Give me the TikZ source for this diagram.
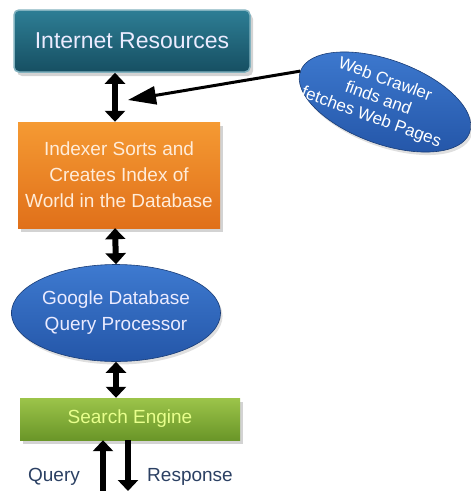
\documentclass[tikz,border=0pt]{standalone}
\usepackage{fontspec}
\setmainfont{Liberation Sans}
\usetikzlibrary{arrows.meta,shapes.geometric,shadows}

\definecolor{tealdark}{HTML}{164F62}
\definecolor{teallight}{HTML}{2E7E95}
\definecolor{orangetop}{HTML}{F59A33}
\definecolor{orangebot}{HTML}{E0701A}
\definecolor{bluetop}{HTML}{3E7AD0}
\definecolor{bluebot}{HTML}{2456A8}
\definecolor{greentop}{HTML}{9CC44A}
\definecolor{greenbot}{HTML}{6A9628}
\definecolor{slatetext}{HTML}{2B4063}

\tikzset{
  box/.style={rectangle,inner sep=0pt,drop shadow={shadow xshift=3pt,shadow yshift=-4pt,opacity=.35}},
  blob/.style={ellipse,inner sep=0pt,top color=bluetop,bottom color=bluebot,draw=bluebot!70!black,line width=.6pt,
    drop shadow={shadow xshift=2pt,shadow yshift=-3pt,opacity=.25}},
  dbl/.style={line width=6pt,{Triangle[width=20pt,length=11pt]}-{Triangle[width=20pt,length=11pt]}},
  sgl/.style={line width=6pt,-{Triangle[width=20pt,length=11pt]}},
  txt/.style={font=\fontsize{19}{26}\selectfont},
}

\begin{document}
\begin{tikzpicture}[x=1pt,y=-1pt]
      \useasboundingbox (0,0) rectangle (471,491);

      \node[box,rounded corners=5pt,minimum width=236pt,minimum height=62pt,top color=teallight,bottom color=tealdark,draw=teallight!60!white,line width=1.5pt,text=white!92!blue,font=\fontsize{23}{26}\selectfont] (inet) at (132,41) {Internet Resources};
      \node[box,minimum width=202pt,minimum height=106pt,top color=orangetop,bottom color=orangebot,align=center,txt,text=orange!15!white] (index) at (119,175) {Indexer Sorts and\\ Creates Index of\\ World in the Database};
      \node[blob,minimum width=178pt,minimum height=97pt,align=center,txt,text=blue!8!white] (query) at (116,313) {Google Database\\ Query Processor};
      \node[box,minimum width=220pt,minimum height=42pt,top color=greentop,bottom color=greenbot,txt,text=green!20!yellow!45!white] (search) at (130,419) {Search Engine};
      \node[blob,rotate=-20,minimum width=180pt,minimum height=84pt,align=center] (crawl) at (385,102) {};
      \node[rotate=-20,align=center,text=white,font=\fontsize{17}{20}\selectfont] (crawltxt) at (378,99) {Web Crawler\\ finds and\\ fetches Web Pages};

      \coordinate (hit) at (128,100);
      \coordinate (qlow) at (103,491);
      \coordinate (rlow) at (128,491);
      \node[txt,text=slatetext] (qlab) at (54,477) {Query};
      \node[txt,text=slatetext] (rlab) at (190,477) {Response};

      \draw[dbl] ([xshift=-17pt]inet.south) -- ([xshift=-4pt]index.north);
      \draw[line width=3pt,-{Triangle[width=18pt,length=28pt]}] (crawl.west) -- (hit);
      \draw[dbl] ([xshift=-4pt]index.south) -- (query.north);
      \draw[dbl] (query.south) -- ([xshift=-14pt]search.north);
      \draw[sgl] (qlow) -- (qlow |- search.south);
      \draw[sgl] (rlow |- search.south) -- (rlow);
    \end{tikzpicture}
\end{document}
